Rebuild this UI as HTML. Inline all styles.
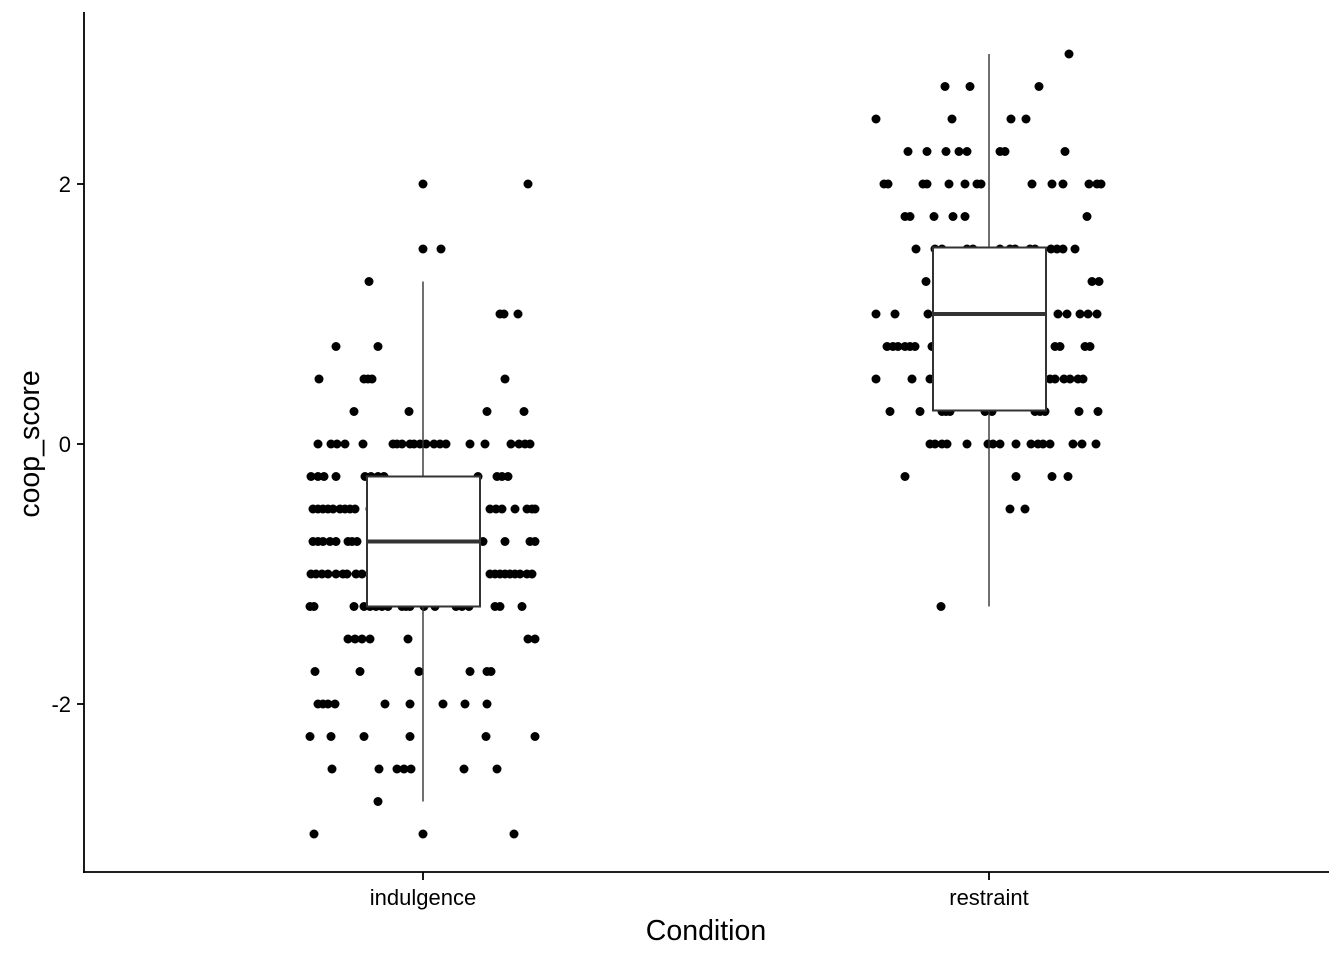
<!DOCTYPE html>
<html><head><meta charset="utf-8"><style>
html,body{margin:0;padding:0;background:#fff;}
svg{display:block;font-family:"Liberation Sans",Arial,sans-serif;}
</style></head><body>
<svg id="s" width="1344" height="960" xmlns="http://www.w3.org/2000/svg">
<rect width="1344" height="960" fill="#fff"/>
<g id="pts" fill="#000"></g>
<g id="box" stroke="#333" fill="#fff">
<line x1="423" y1="281.5" x2="423" y2="476.5" stroke-width="1.4"/>
<line x1="423" y1="606.5" x2="423" y2="801.5" stroke-width="1.4"/>
<rect x="367" y="476.5" width="113" height="130" stroke-width="2"/>
<line x1="367" y1="541.5" x2="480" y2="541.5" stroke-width="4"/>
<line x1="989" y1="54" x2="989" y2="249" stroke-width="1.4"/>
<line x1="989" y1="411.5" x2="989" y2="606.5" stroke-width="1.4"/>
<rect x="933" y="247.5" width="113" height="163" stroke-width="2"/>
<line x1="933" y1="314" x2="1046" y2="314" stroke-width="4"/>
</g>
<g stroke="#000" stroke-width="1.8">
<line x1="84" y1="12" x2="84" y2="873"/>
<line x1="83" y1="872" x2="1329" y2="872"/>
<line x1="77" y1="184" x2="84" y2="184"/>
<line x1="77" y1="444" x2="84" y2="444"/>
<line x1="77" y1="704" x2="84" y2="704"/>
<line x1="423" y1="872" x2="423" y2="880"/>
<line x1="989" y1="872" x2="989" y2="880"/>
</g>
<g font-size="22" fill="#000" text-anchor="end">
<text x="71" y="192">2</text>
<text x="71" y="452">0</text>
<text x="71" y="712">-2</text>
</g>
<g font-size="22" fill="#000" text-anchor="middle">
<text x="423" y="905">indulgence</text>
<text x="989" y="905">restraint</text>
<text x="706" y="940" font-size="28.5">Condition</text>
<text transform="translate(39,444) rotate(-90)" font-size="28.5">coop_score</text>
</g>
</svg>
<script>
var I={
"2":[423,528],"1.5":[423,441],"1.25":[369],"1":[500,504,518],"0.75":[336,378],
"0.5":[319,364,368,372,505],"0.25":[354,409,487,524],
"0":[318,331,337,345,363,393,397,402,410,414,420,426,434,440,446,470,485,511,519,525,530],
"-0.25":[311,318,324,336,365,371,378,384,478,497,502,508],
"-0.5":[313,318,323,328,333,340,345,350,355,370,490,496,502,515,527,532,535],
"-0.75":[313,318,323,330,336,348,352,357,483,505,530,535],
"-1":[311,316,322,328,336,343,347,356,362,490,495,500,505,510,515,520,527,532],
"-1.25":[310,314,354,364,370,376,382,388,402,406,410,424,435,456,462,469,495,500,522],
"-1.5":[348,355,362,370,408,528,535],"-1.75":[315,360,419,470,487,491],
"-2":[318,323,328,335,385,410,443,465,487],"-2.25":[310,331,364,410,486,535],
"-2.5":[332,379,397,404,411,464,497],"-2.75":[378],"-3":[314,423,514]};
var R={
"3":[1069],"2.75":[945,970,1039],"2.5":[876,952,1011,1026],
"2.25":[908,927,946,959,967,1000,1005,1065],
"2":[884,888,923,927,949,965,977,981,1032,1052,1063,1089,1097,1101],
"1.75":[905,910,934,953,965,1087],
"1.5":[916,935,942,967,973,1000,1010,1015,1030,1035,1051,1057,1063,1075],
"1.25":[926,1092,1099],"1":[876,895,928,1058,1067,1080,1088,1097],
"0.75":[887,893,898,905,910,915,932,1055,1060,1085,1090],
"0.5":[876,912,930,1050,1055,1064,1070,1078,1083],
"0.25":[890,920,942,946,950,985,992,1035,1040,1045,1079,1098],
"0":[930,935,942,947,967,988,993,1000,1016,1031,1038,1043,1050,1073,1082,1096],
"-0.25":[905,1016,1052,1068],"-0.5":[1010,1025],"-1.25":[941]};
var g=document.getElementById('pts'),h='';
[I,R].forEach(function(o){for(var k in o){var y=444-parseFloat(k)*130;o[k].forEach(function(x){h+='<circle cx="'+x+'" cy="'+y+'" r="4.5"/>';});}});
g.innerHTML=h;
</script>
</body></html>
